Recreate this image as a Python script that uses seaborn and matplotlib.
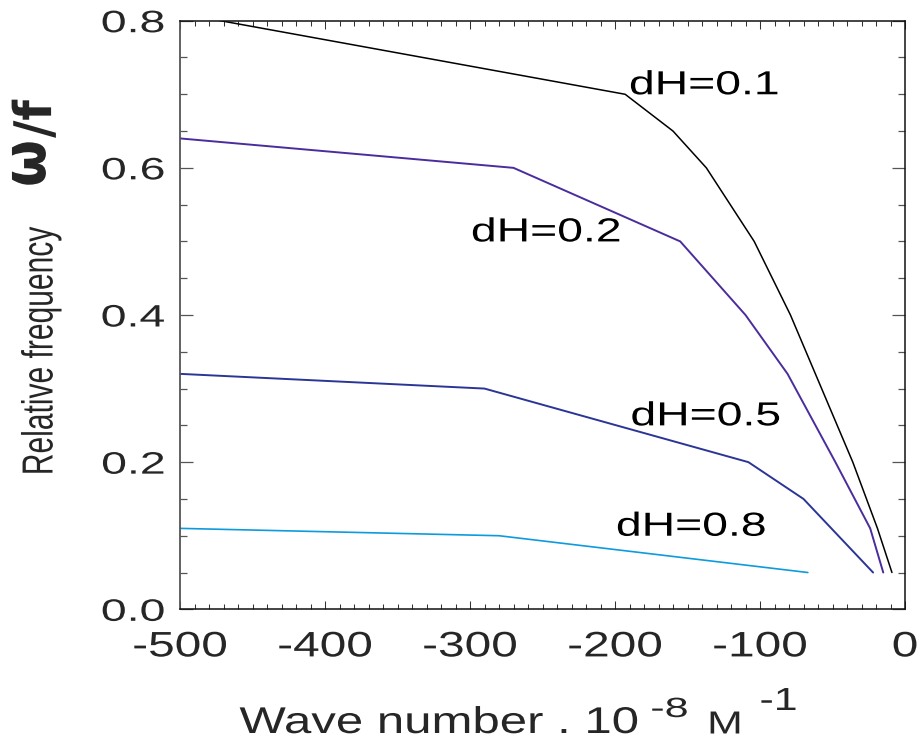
import matplotlib
matplotlib.use("Agg")
import matplotlib.pyplot as plt
import pandas as pd
import seaborn as sns
from matplotlib.patheffects import AbstractPathEffect
from matplotlib.ticker import MultipleLocator
from matplotlib.transforms import Affine2D

# Dispersion curves: wave number (10^-8 m^-1) against relative frequency w/f
k_dh01 = [-500, -193, -160, -137, -104, -79, -36, -19, -9]
w_dh01 = [0.81, 0.70, 0.65, 0.60, 0.50, 0.40, 0.20, 0.11, 0.05]

k_dh02 = [-500, -270, -155, -110, -81, -48, -24, -15]
w_dh02 = [0.64, 0.60, 0.50, 0.40, 0.32, 0.20, 0.11, 0.05]

k_dh05 = [-500, -290, -108, -70, -22]
w_dh05 = [0.32, 0.30, 0.20, 0.15, 0.05]

k_dh08 = [-500, -280, -67]
w_dh08 = [0.11, 0.10, 0.05]

series_names = ["dH=0.1", "dH=0.2", "dH=0.5", "dH=0.8"]

x_ticks = [-500, -400, -300, -200, -100, 0]
x_tick_labels = ["-500", "-400", "-300", "-200", "-100", "0"]
y_ticks = [0.0, 0.2, 0.4, 0.6, 0.8]
y_tick_labels = ["0.0", "0.2", "0.4", "0.6", "0.8"]

# ---------------------------------------------------------------- styling
series_colors = ["#000000", "#4B2C9C", "#2A3596", "#0E9BDD"]
series_widths = [1.1, 1.4, 1.4, 1.2]
# where each curve's name is written (data coords, left/baseline)
name_pos = [(-190, 0.70), (-299, 0.50), (-189, 0.25), (-199, 0.10)]

FONT = "Liberation Sans"


class Widen(AbstractPathEffect):
    """Stretch rendered glyphs horizontally about a chosen anchor."""

    def __init__(self, sx, anchor="center"):
        super().__init__()
        self.sx = sx
        self.anchor = anchor

    def draw_path(self, renderer, gc, tpath, affine, rgbFace=None):
        ext = tpath.get_extents(affine)
        if self.anchor == "left":
            x0 = ext.x0
        elif self.anchor == "right":
            x0 = ext.x1
        else:
            x0 = 0.5 * (ext.x0 + ext.x1)
        stretch = Affine2D().translate(-x0, 0).scale(self.sx, 1.0).translate(x0, 0)
        renderer.draw_path(gc, tpath, affine + stretch, rgbFace)


sns.set_style("ticks")
plt.rcParams["font.family"] = [FONT, "DejaVu Sans"]
plt.rcParams["axes.unicode_minus"] = False

W, H = 921, 741
fig = plt.figure(figsize=(W / 100, H / 100), dpi=100)
ax = fig.add_axes([180 / W, 1 - 609.3 / H, (905 - 180) / W, (609.3 - 20.7) / H])

frames = []
for name, k, w in zip(series_names,
                      [k_dh01, k_dh02, k_dh05, k_dh08],
                      [w_dh01, w_dh02, w_dh05, w_dh08]):
    frames.append(pd.DataFrame({"k": k, "w": w, "series": name}))
df = pd.concat(frames, ignore_index=True)

sns.lineplot(data=df, x="k", y="w", hue="series", hue_order=series_names,
             palette=dict(zip(series_names, series_colors)),
             estimator=None, sort=False, legend=False, ax=ax)
for line, lw in zip(ax.lines, series_widths):
    line.set_linewidth(lw)

ax.set_xlim(-500, 0)
ax.set_ylim(0, 0.8)
ax.set_xlabel("")
ax.set_ylabel("")

ax.set_xticks(x_ticks, x_tick_labels)
ax.xaxis.set_minor_locator(MultipleLocator(10))
ax.set_yticks(y_ticks, y_tick_labels)
ax.yaxis.set_minor_locator(MultipleLocator(0.05))

ax.tick_params(axis="x", which="both", direction="in", top=True, bottom=True,
               color="#333333", width=0.75)
ax.tick_params(axis="x", which="major", length=6.0, pad=15.2)
ax.tick_params(axis="x", which="minor", length=3.3)
ax.tick_params(axis="y", which="both", direction="in", left=True, right=True,
               color="#555555", width=0.9)
ax.tick_params(axis="y", which="major", length=9.5, pad=10.8)
ax.tick_params(axis="y", which="minor", length=5.0)

for side in ["top", "bottom", "right"]:
    ax.spines[side].set_color("#111111")
    ax.spines[side].set_linewidth(1.1)
ax.spines["left"].set_color("#555555")
ax.spines["left"].set_linewidth(1.3)

for lbl in ax.get_xticklabels():
    lbl.set_fontfamily(FONT)
    lbl.set_fontsize(25.5)
    lbl.set_path_effects([Widen(1.35, "center")])
for lbl in ax.get_yticklabels():
    lbl.set_fontfamily(FONT)
    lbl.set_fontsize(22.3)
    lbl.set_path_effects([Widen(1.5, "right")])

# curve names
for name, (kx, wy) in zip(series_names, name_pos):
    ax.text(kx, wy, name, ha="left", va="baseline", fontsize=24, family=FONT,
            color="black", path_effects=[Widen(1.39, "left")])


def fig_xy(px, py):
    return px / W, 1 - py / H


# x axis title with superscripts
fig.text(*fig_xy(239.5, 733), "Wave number . 10", ha="left", va="baseline",
         fontsize=26.8, family=FONT, path_effects=[Widen(1.32, "left")])
fig.text(*fig_xy(651, 717), "-8", ha="left", va="baseline",
         fontsize=20, family=FONT, path_effects=[Widen(1.55, "left")])
fig.text(*fig_xy(708, 733.5), "M", ha="left", va="baseline",
         fontsize=23, family=FONT, path_effects=[Widen(1.34, "left")])
fig.text(*fig_xy(760, 710), "-1", ha="left", va="baseline",
         fontsize=23, family=FONT, path_effects=[Widen(1.34, "left")])

# y axis title
fig.text(*fig_xy(41, 351), "Relative frequency", rotation=90, ha="center",
         va="center", fontsize=21.6, family=FONT,
         path_effects=[Widen(1.45, "center")])
fig.text(*fig_xy(28.4, 163.5), "\u03c9", rotation=90, ha="center", va="center",
         fontsize=39, family="DejaVu Sans", weight="bold",
         path_effects=[Widen(1.12, "center")])
fig.text(*fig_xy(37, 119), "/f", rotation=90, ha="center", va="center",
         fontsize=34, family="DejaVu Sans", weight="bold",
         path_effects=[Widen(1.1, "center")])

fig.savefig("out.png", dpi=100, facecolor="white")
